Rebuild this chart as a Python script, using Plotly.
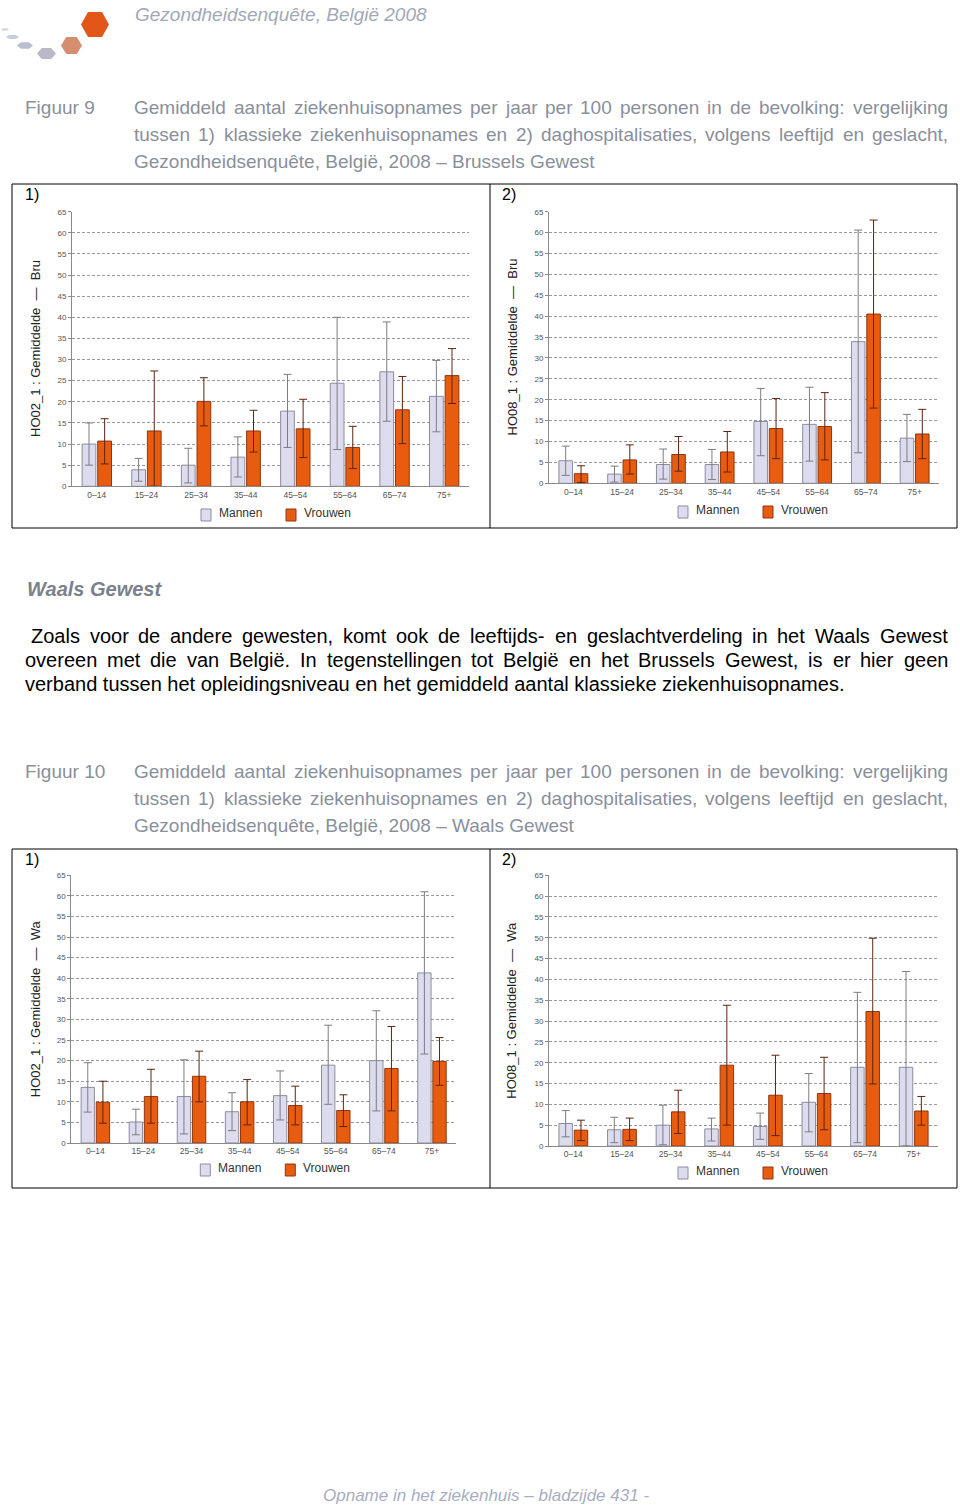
import plotly.graph_objects as go

# ---------------- data ----------------
ages = ["0–14", "15–24", "25–34", "35–44", "45–54", "55–64", "65–74", "75+"]

# Figuur 9 (1) Brussels - klassieke ziekenhuisopnames (HO02_1)
bru_ho02_m = [10.0, 3.9, 5.0, 6.9, 17.8, 24.4, 27.1, 21.3]
bru_ho02_m_lo = [5.0, 1.2, 0.8, 2.2, 9.2, 8.7, 15.4, 12.9]
bru_ho02_m_hi = [15.0, 6.6, 9.0, 11.7, 26.5, 40.0, 38.9, 29.8]
bru_ho02_v = [10.7, 13.1, 20.1, 13.1, 13.6, 9.2, 18.1, 26.2]
bru_ho02_v_lo = [5.3, 0.0, 14.3, 8.1, 6.8, 4.2, 10.1, 19.6]
bru_ho02_v_hi = [16.0, 27.3, 25.7, 18.0, 20.6, 14.2, 26.0, 32.6]

# Figuur 9 (2) Brussels - daghospitalisaties (HO08_1)
bru_ho08_m = [5.4, 2.2, 4.5, 4.5, 14.8, 14.1, 33.9, 10.8]
bru_ho08_m_lo = [1.9, 0.3, 1.0, 0.9, 6.6, 5.3, 7.3, 5.2]
bru_ho08_m_hi = [8.9, 4.1, 8.2, 8.1, 22.7, 23.0, 60.6, 16.5]
bru_ho08_v = [2.3, 5.6, 6.9, 7.5, 13.1, 13.6, 40.5, 11.8]
bru_ho08_v_lo = [0.2, 2.2, 2.9, 2.7, 5.9, 5.6, 18.0, 5.9]
bru_ho08_v_hi = [4.2, 9.2, 11.2, 12.4, 20.3, 21.7, 63.0, 17.7]

# Figuur 10 (1) Wallonia - HO02_1
wal_ho02_m = [13.5, 5.1, 11.3, 7.6, 11.5, 18.9, 20.0, 41.3]
wal_ho02_m_lo = [7.5, 2.0, 2.2, 3.0, 5.6, 9.4, 7.8, 21.6]
wal_ho02_m_hi = [19.5, 8.2, 20.2, 12.2, 17.5, 28.6, 32.1, 61.0]
wal_ho02_v = [9.9, 11.3, 16.2, 10.0, 9.1, 7.9, 18.1, 19.8]
wal_ho02_v_lo = [4.8, 4.8, 10.0, 4.4, 4.4, 4.0, 7.8, 14.0]
wal_ho02_v_hi = [15.0, 17.9, 22.3, 15.4, 13.8, 11.7, 28.3, 25.6]

# Figuur 10 (2) Wallonia - HO08_1
wal_ho08_m = [5.4, 3.9, 5.0, 4.1, 4.7, 10.5, 18.9, 18.9]
wal_ho08_m_lo = [2.2, 0.8, 0.3, 1.2, 1.6, 3.4, 0.8, 0.0]
wal_ho08_m_hi = [8.5, 6.9, 9.8, 6.7, 7.9, 17.4, 36.9, 41.9]
wal_ho08_v = [3.8, 4.0, 8.2, 19.4, 12.2, 12.6, 32.3, 8.4]
wal_ho08_v_lo = [1.3, 1.3, 3.0, 5.0, 2.5, 3.9, 14.9, 5.0]
wal_ho08_v_hi = [6.2, 6.7, 13.4, 33.8, 21.8, 21.3, 49.9, 11.9]

y_ticks = list(range(0, 70, 5))
legend_labels = ["Mannen", "Vrouwen"]
y_titles = ["HO02_1 : Gemiddelde  \u2014  Bru", "HO08_1 : Gemiddelde  \u2014  Bru",
            "HO02_1 : Gemiddelde  \u2014  Wa", "HO08_1 : Gemiddelde  \u2014  Wa"]

header_text = "Gezondheidsenquête, België 2008"
cap_lines_9 = ["Gemiddeld aantal ziekenhuisopnames per jaar per 100 personen in de bevolking: vergelijking",
               "tussen 1) klassieke ziekenhuisopnames en 2) daghospitalisaties, volgens leeftijd en geslacht,",
               "Gezondheidsenquête, België, 2008 – Brussels Gewest"]
cap_lines_10 = ["Gemiddeld aantal ziekenhuisopnames per jaar per 100 personen in de bevolking: vergelijking",
                "tussen 1) klassieke ziekenhuisopnames en 2) daghospitalisaties, volgens leeftijd en geslacht,",
                "Gezondheidsenquête, België, 2008 – Waals Gewest"]
section_title = "Waals Gewest"
para_lines = ["Zoals voor de andere gewesten, komt ook de leeftijds- en geslachtverdeling in het Waals Gewest",
              "overeen met die van België. In tegenstellingen tot België en het Brussels Gewest, is er hier geen",
              "verband tussen het opleidingsniveau en het gemiddeld aantal klassieke ziekenhuisopnames."]
footer_text = "Opname in het ziekenhuis – bladzijde 431 -"

# ---------------- layout helpers ----------------
W, H = 960, 1509
def px(x): return (x - 1.0) / W
def py(y): return 1 - (y - 1.0) / H

# Arial/Helvetica advance widths (1/1000 em) for justification
AW = {' ': 278, 'a': 556, 'b': 556, 'c': 500, 'd': 556, 'e': 556, 'f': 278, 'g': 556, 'h': 556,
      'i': 222, 'j': 222, 'k': 500, 'l': 222, 'm': 833, 'n': 556, 'o': 556, 'p': 556, 'q': 556,
      'r': 333, 's': 500, 't': 278, 'u': 556, 'v': 500, 'w': 722, 'x': 500, 'y': 500, 'z': 500,
      'A': 667, 'B': 667, 'C': 722, 'D': 722, 'E': 667, 'F': 611, 'G': 778, 'H': 722, 'I': 278,
      'J': 500, 'K': 667, 'L': 556, 'M': 833, 'N': 722, 'O': 778, 'P': 667, 'Q': 778, 'R': 722,
      'S': 667, 'T': 611, 'U': 722, 'V': 667, 'W': 944, 'X': 667, 'Y': 667, 'Z': 611,
      ',': 278, '.': 278, ':': 278, '(': 333, ')': 333, '-': 333, '–': 556, 'ê': 556, 'ë': 556}
def tw(s, size):
    return sum(AW.get(c, 556) for c in s) * size / 1000.0

FONT = "Liberation Sans, Arial, Helvetica, sans-serif"
NARROW = "Liberation Sans Narrow, Liberation Sans, Arial, sans-serif"
annotations = []
shapes = []

def text(x, y, s, size, color, anchor="left", italic=False, bold=False, family=FONT, angle=0):
    t = s
    if bold:
        t = "<b>" + t + "</b>"
    if italic:
        t = "<i>" + t + "</i>"
    annotations.append(dict(x=px(x), y=py(y), xref="paper", yref="paper", text=t, showarrow=False,
                            xanchor=anchor, yanchor="middle", textangle=angle,
                            font=dict(size=size, color=color, family=family)))

def justified(line, y, x0, x1, size, color):
    words = line.split(" ")
    wsum = sum(tw(w, size) for w in words)
    gap = (x1 - x0 - wsum) / (len(words) - 1)
    x = x0
    for w in words:
        text(x, y, w, size, color)
        x += tw(w, size) + gap

# ---------------- page text ----------------
CAP = "#8a8f9c"
text(134, 15, header_text, 19, "#a3a8b8", italic=True)

# logo hexagons
def hexagon(cx, cy, hw, hh, color):
    q = hw * 0.5
    pts = [(cx - hw, cy), (cx - q, cy - hh), (cx + q, cy - hh), (cx + hw, cy), (cx + q, cy + hh), (cx - q, cy + hh)]
    path = "M " + " L ".join(f"{px(a):.5f},{py(b):.5f}" for a, b in pts) + " Z"
    shapes.append(dict(type="path", path=path, xref="paper", yref="paper", fillcolor=color, line=dict(width=0)))
hexagon(96, 25.5, 14, 12.5, "#e2561a")
hexagon(72.5, 46.5, 10.5, 8.5, "#d58f70")
hexagon(47.5, 54.5, 9.5, 5.5, "#bcb8c8")
hexagon(26, 46.5, 8, 3.2, "#b9bdd0")
hexagon(13.5, 38, 6.5, 2, "#c9cdd9")
hexagon(6, 30.5, 4, 1.2, "#d3d6e0")

def caption(fig_label, lines, y0):
    text(24, y0, fig_label, 19, CAP)
    for i, ln in enumerate(lines):
        y = y0 + 27 * i
        if i < len(lines) - 1:
            justified(ln, y, 133, 947, 19, CAP)
        else:
            text(133, y, ln, 19, CAP)

caption("Figuur 9", cap_lines_9, 108)
caption("Figuur 10", cap_lines_10, 772)

text(26, 590, section_title, 20, "#7b808d", italic=True, bold=True)
justified(para_lines[0], 637, 30, 947, 20, "#000000")
justified(para_lines[1], 661, 24, 947, 20, "#000000")
text(24, 685, para_lines[2], 20, "#000000")

text(487, 1496, footer_text, 17, "#a8adbf", anchor="center", italic=True)

# boxes
for top, bot in [(185, 529), (850, 1189)]:
    shapes.append(dict(type="rect", xref="paper", yref="paper", x0=px(13), x1=px(958), y0=py(bot), y1=py(top),
                       line=dict(color="#000000", width=1)))
    shapes.append(dict(type="line", xref="paper", yref="paper", x0=px(491), x1=px(491), y0=py(bot), y1=py(top),
                       line=dict(color="#000000", width=1)))
    text(24, top + 11, "1)", 16, "#000000")
    text(501, top + 11, "2)", 16, "#000000")

# ---------------- charts ----------------
charts = [
    dict(x0=73, x1=470, ytop=212.7, ybot=487.3, title_x=37, leg_y=515,
         m=bru_ho02_m, mlo=bru_ho02_m_lo, mhi=bru_ho02_m_hi, v=bru_ho02_v, vlo=bru_ho02_v_lo, vhi=bru_ho02_v_hi),
    dict(x0=550, x1=940, ytop=212.7, ybot=484.3, title_x=513, leg_y=512,
         m=bru_ho08_m, mlo=bru_ho08_m_lo, mhi=bru_ho08_m_hi, v=bru_ho08_v, vlo=bru_ho08_v_lo, vhi=bru_ho08_v_hi),
    dict(x0=72.3, x1=457, ytop=876.3, ybot=1144, title_x=36, leg_y=1170,
         m=wal_ho02_m, mlo=wal_ho02_m_lo, mhi=wal_ho02_m_hi, v=wal_ho02_v, vlo=wal_ho02_v_lo, vhi=wal_ho02_v_hi),
    dict(x0=550, x1=939, ytop=876.3, ybot=1147, title_x=513, leg_y=1173,
         m=wal_ho08_m, mlo=wal_ho08_m_lo, mhi=wal_ho08_m_hi, v=wal_ho08_v, vlo=wal_ho08_v_lo, vhi=wal_ho08_v_hi),
]

M_FILL, M_LINE, M_ERR = "#dcdcee", "#8c8c9e", "#7c7c84"
V_FILL, V_LINE, V_ERR = "#e85c10", "#8e3610", "#5e2410"

fig = go.Figure()
layout = {}
for i, c in enumerate(charts):
    n = "" if i == 0 else str(i + 1)
    xa, ya = "x" + n, "y" + n
    fig.add_trace(go.Bar(x=ages, y=c["m"], name=legend_labels[0], xaxis=xa, yaxis=ya, showlegend=False,
                         marker=dict(color=M_FILL, line=dict(color=M_LINE, width=1)),
                         error_y=dict(type="data", symmetric=False,
                                      array=[h - v for h, v in zip(c["mhi"], c["m"])],
                                      arrayminus=[v - l for l, v in zip(c["mlo"], c["m"])],
                                      color=M_ERR, thickness=1, width=4)))
    fig.add_trace(go.Bar(x=ages, y=c["v"], name=legend_labels[1], xaxis=xa, yaxis=ya, showlegend=False,
                         marker=dict(color=V_FILL, line=dict(color=V_LINE, width=1)),
                         error_y=dict(type="data", symmetric=False,
                                      array=[h - v for h, v in zip(c["vhi"], c["v"])],
                                      arrayminus=[v - l for l, v in zip(c["vlo"], c["v"])],
                                      color=V_ERR, thickness=1, width=4)))
    layout["xaxis" + n] = dict(domain=[px(c["x0"]), px(c["x1"])], anchor=ya, showgrid=False,
                               showline=True, linecolor="#8a8a8a", linewidth=1, ticks="",
                               tickfont=dict(size=8.5, color="#555555", family=NARROW),
                               fixedrange=True, automargin=False)
    layout["yaxis" + n] = dict(domain=[py(c["ybot"]), py(c["ytop"])], anchor=xa, range=[0, 65],
                               tickvals=y_ticks, showline=True, linecolor="#8a8a8a", linewidth=1,
                               ticks="outside", ticklen=3, tickcolor="#8a8a8a",
                               tickfont=dict(size=8, color="#555555", family=NARROW),
                               showgrid=True, gridcolor="#9a9a9a", gridwidth=1, griddash="3px,2px",
                               zeroline=False, fixedrange=True, automargin=False)
    # y title
    text(c["title_x"], (c["ytop"] + c["ybot"]) / 2, y_titles[i], 13, "#222222", anchor="center", angle=-90)
    # legend
    lx = c["x0"] + 134
    for j, (lab, fill, line) in enumerate([(legend_labels[0], M_FILL, M_LINE), (legend_labels[1], V_FILL, V_LINE)]):
        sx = lx + 85 * j
        shapes.append(dict(type="rect", xref="paper", yref="paper", x0=px(sx - 5), x1=px(sx + 5),
                           y0=py(c["leg_y"] + 7), y1=py(c["leg_y"] - 5), fillcolor=fill,
                           line=dict(color=line, width=1)))
        text(sx + 11, c["leg_y"] - 1, lab, 12, "#333333")

fig.update_layout(**layout)
fig.update_layout(width=W, height=H, margin=dict(l=0, r=0, t=0, b=0, pad=0), autosize=False,
                  paper_bgcolor="#ffffff", plot_bgcolor="#ffffff",
                  barmode="group", bargap=0.37, bargroupgap=0.12,
                  showlegend=False, annotations=annotations, shapes=shapes)

fig.write_html("out.html", config=dict(displayModeBar=False),
               post_script="document.body.style.margin='0px';document.body.style.overflow='hidden';")
